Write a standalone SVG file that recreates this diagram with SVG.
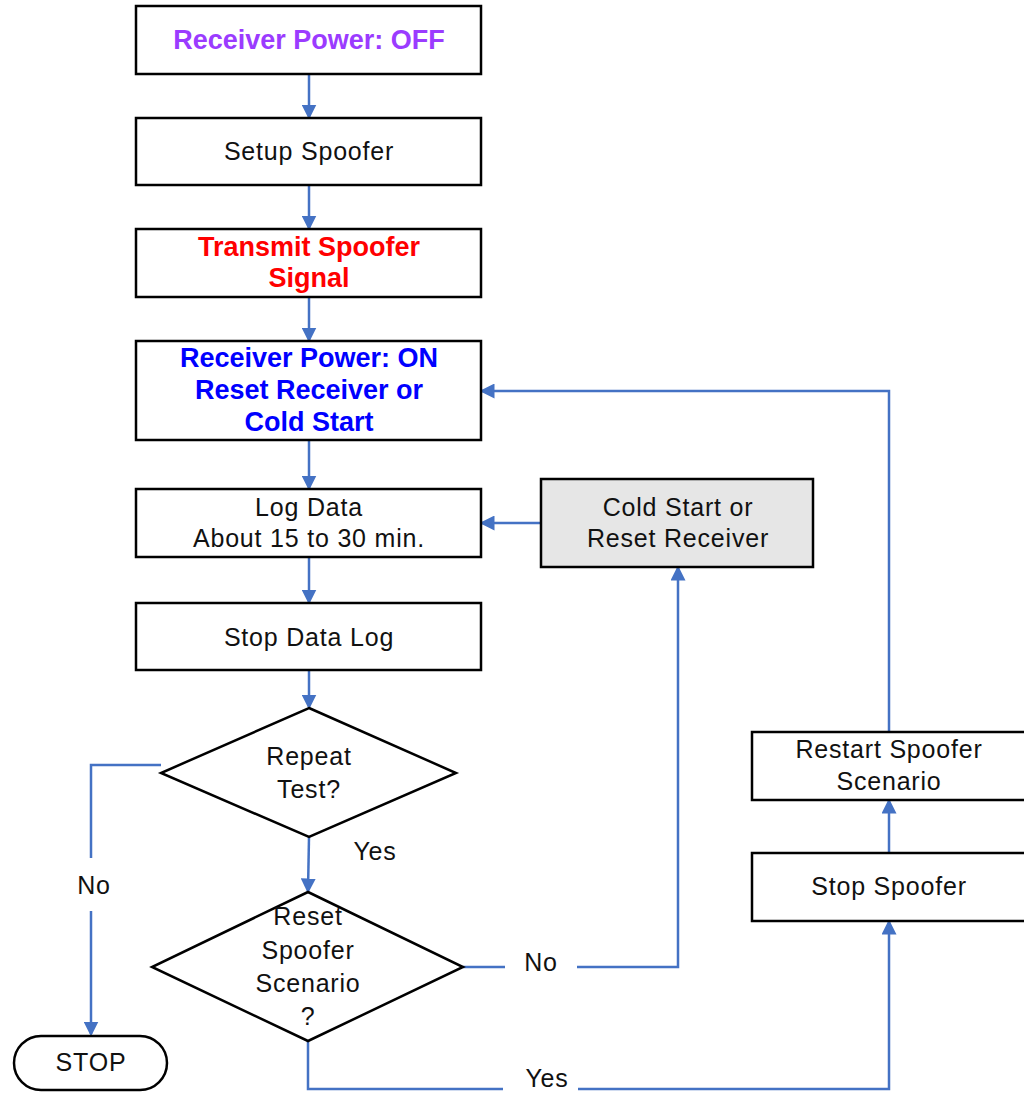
<svg xmlns="http://www.w3.org/2000/svg" width="1024" height="1096" viewBox="0 0 1024 1096">
<style>
.box{fill:#fff;stroke:#000;stroke-width:2.5}
.gray{fill:#e6e6e6}
.t{font-family:"Liberation Sans",Arial,sans-serif;font-size:25px;letter-spacing:0.8px;fill:#111;text-anchor:middle;dominant-baseline:central}
.b{font-family:"Liberation Sans",Arial,sans-serif;font-size:27px;font-weight:bold;text-anchor:middle;dominant-baseline:central}
.c{fill:none;stroke:#4472c4;stroke-width:2.5}
</style>
<defs>
<marker id="ah" markerWidth="6" markerHeight="6" refX="5" refY="3" orient="auto" markerUnits="strokeWidth">
<path d="M0,0 L6,3 L0,6 z" fill="#4472c4"/>
</marker>
</defs>
<rect width="1024" height="1096" fill="#fff"/>
<g id="connectors">
<path class="c" d="M309,74 V117" marker-end="url(#ah)"/>
<path class="c" d="M309,185 V228" marker-end="url(#ah)"/>
<path class="c" d="M309,297 V340" marker-end="url(#ah)"/>
<path class="c" d="M309,440 V488" marker-end="url(#ah)"/>
<path class="c" d="M309,557 V602" marker-end="url(#ah)"/>
<path class="c" d="M309,670 V707" marker-end="url(#ah)"/>
<path class="c" d="M309,837 L308,891" marker-end="url(#ah)"/>
<path class="c" d="M161,765 H91 V858"/>
<path class="c" d="M91,911 V1034" marker-end="url(#ah)"/>
<path class="c" d="M463,967 H505"/>
<path class="c" d="M577,967 H678 V568" marker-end="url(#ah)"/>
<path class="c" d="M541,523 H482" marker-end="url(#ah)"/>
<path class="c" d="M308,1041 V1089 H503"/>
<path class="c" d="M578,1089 H889 V922" marker-end="url(#ah)"/>
<path class="c" d="M889,853 V801" marker-end="url(#ah)"/>
<path class="c" d="M889,732 V391 H482" marker-end="url(#ah)"/>
<text class="t" x="375" y="851">Yes</text>
<text class="t" x="94" y="885">No</text>
<text class="t" x="541" y="962">No</text>
<text class="t" x="547" y="1078">Yes</text>
</g>
<g id="n1"><rect class="box" x="136" y="6" width="345" height="68"/><text class="b" x="309" y="40" fill="#9b3bff">Receiver Power: OFF</text></g>
<g id="n2"><rect class="box" x="136" y="118" width="345" height="67"/><text class="t" x="309" y="151">Setup Spoofer</text></g>
<g id="n3"><rect class="box" x="136" y="229" width="345" height="68"/><text class="b" x="309" y="247" fill="#ff0000">Transmit Spoofer</text><text class="b" x="309" y="278" fill="#ff0000">Signal</text></g>
<g id="n4"><rect class="box" x="136" y="341" width="345" height="99"/><text class="b" x="309" y="358" fill="#0000ff">Receiver Power: ON</text><text class="b" x="309" y="390" fill="#0000ff">Reset Receiver or</text><text class="b" x="309" y="422" fill="#0000ff">Cold Start</text></g>
<g id="n5"><rect class="box" x="136" y="489" width="345" height="68"/><text class="t" x="309" y="507">Log Data</text><text class="t" x="309" y="538">About 15 to 30 min.</text></g>
<g id="n6"><rect class="box" x="136" y="603" width="345" height="67"/><text class="t" x="309" y="637">Stop Data Log</text></g>
<g id="d1"><polygon class="box" points="309,708 456,773 309,837 161,773"/><text class="t" x="309" y="756">Repeat</text><text class="t" x="309" y="789">Test?</text></g>
<g id="d2"><polygon class="box" points="308,892 463,967 308,1041 152,967"/><text class="t" x="308" y="916">Reset</text><text class="t" x="308" y="950">Spoofer</text><text class="t" x="308" y="983">Scenario</text><text class="t" x="308" y="1016">?</text></g>
<g id="stop"><rect class="box" x="14" y="1036" width="153" height="54" rx="27"/><text class="t" x="91" y="1062">STOP</text></g>
<g id="n7"><rect class="box gray" x="541" y="479" width="272" height="88"/><text class="t" x="678" y="507">Cold Start or</text><text class="t" x="678" y="538">Reset Receiver</text></g>
<g id="n8"><rect class="box" x="752" y="732" width="280" height="68"/><text class="t" x="889" y="749">Restart Spoofer</text><text class="t" x="889" y="781">Scenario</text></g>
<g id="n9"><rect class="box" x="752" y="853" width="280" height="68"/><text class="t" x="889" y="886">Stop Spoofer</text></g>
</svg>
